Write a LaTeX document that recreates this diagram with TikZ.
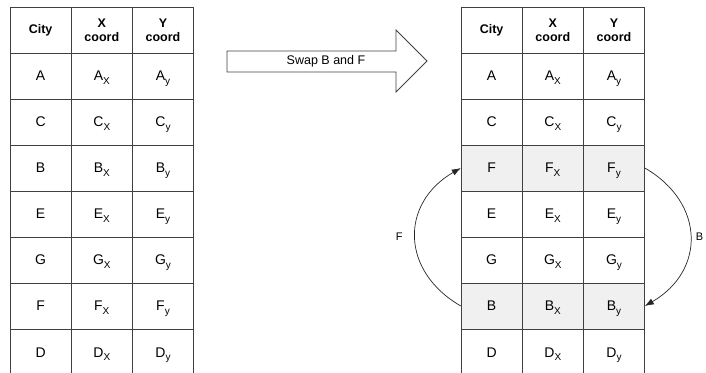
\documentclass[tikz,border=0pt]{standalone}
\usepackage{fontspec}
\setmainfont{Liberation Sans}
\usetikzlibrary{arrows.meta}

\newcommand{\sbx}[1]{\raisebox{-3.5pt}{\fontsize{10}{10}\selectfont #1}}

\tikzset{
    cell/.style={minimum width=61.2pt, minimum height=46pt, inner sep=0pt,
        text height=10pt, text depth=0pt, font=\fontsize{14}{14}\selectfont},
    head/.style={minimum width=61.2pt, minimum height=46pt, inner sep=0pt,
        align=center, font=\fontsize{12.5}{14}\selectfont\bfseries},
    swapped/.style={fill=black!6},
    swaparrow/.style={-{Latex[length=9pt, width=6.5pt]}, line width=0.7pt, black!85,
        bend left=60, looseness=1.3},
    tablegrid/.style={step=1, line width=0.9pt, black!75}
}

\begin{document}
\begin{tikzpicture}[x=1pt, y=1pt]
    \useasboundingbox (0,0) rectangle (706,372);

    % Table before swap
    \begin{scope}[shift={(10,-3)}, x=61.2pt, y=46pt]
        \draw[tablegrid] (0,0) grid (3,8);
        \node[head] (lcity) at (0.5,7.5) {City};
        \node[head] (lxcoord) at (1.5,7.5) {X\\coord};
        \node[head] (lycoord) at (2.5,7.5) {Y\\coord};
        \foreach \c [count=\i] in {A,C,B,E,G,F,D} {
            \node[cell] (l\c) at (0.5,7.5-\i) {\c};
            \node[cell] (l\c-x) at (1.5,7.5-\i) {\c\sbx{X}};
            \node[cell] (l\c-y) at (2.5,7.5-\i) {\c\sbx{y}};
        }
    \end{scope}

    % Swap arrow
    \draw[line width=0.8pt, black!75] (227,300) -- (396,300) -- (396,280) -- (427,311)
        -- (396,342) -- (396,321) -- (227,321) -- cycle;
    \node[font=\fontsize{12.5}{12}\selectfont] (swaplabel) at (326,311) {Swap B and F};

    % Table after swap, rows F and B shaded
    \begin{scope}[shift={(461,-3)}, x=61.2pt, y=46pt]
        \fill[swapped] (0,4) rectangle (3,5);
        \fill[swapped] (0,1) rectangle (3,2);
        \draw[tablegrid] (0,0) grid (3,8);
        \node[head] (rcity) at (0.5,7.5) {City};
        \node[head] (rxcoord) at (1.5,7.5) {X\\coord};
        \node[head] (rycoord) at (2.5,7.5) {Y\\coord};
        \foreach \c [count=\i] in {A,C,F,E,G,B,D} {
            \node[cell] (r\c) at (0.5,7.5-\i) {\c};
            \node[cell] (r\c-x) at (1.5,7.5-\i) {\c\sbx{X}};
            \node[cell] (r\c-y) at (2.5,7.5-\i) {\c\sbx{y}};
        }
    \end{scope}

    % Swap arrows
    \draw[swaparrow] (rB.west) to node[midway, left=9pt, text=black, font=\fontsize{11}{11}\selectfont] (labelF) {F} (rF.west);
    \draw[swaparrow] (rF-y.east) to node[midway, right=2pt, text=black, font=\fontsize{11}{11}\selectfont] (labelB) {B} (rB-y.east);
\end{tikzpicture}
\end{document}
